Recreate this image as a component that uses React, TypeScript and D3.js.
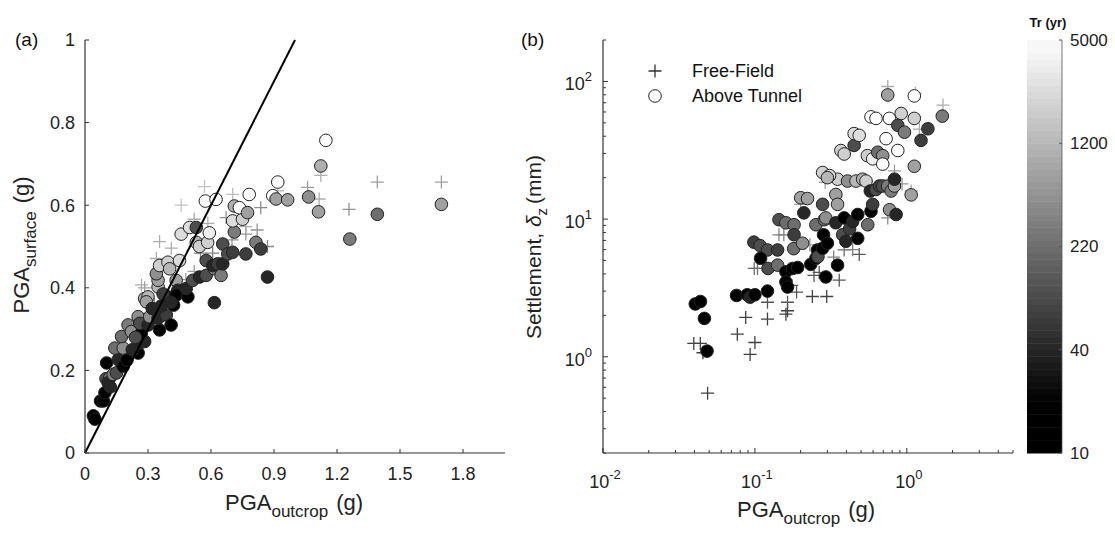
import React from "react";
import * as d3 from "d3";

// ---------------- DATA ----------------
// Panel (a): PGA_outcrop (g) vs PGA_surface (g), colour = Tr (yr)
const aCircleX = [0.040,0.047,0.074,0.087,0.095,0.103,0.100,0.118,0.110,0.134,0.150,0.158,0.182,0.142,0.182,0.174,0.205,0.221,0.253,0.261,0.284,0.268,0.253,0.261,0.300,0.308,0.355,0.348,0.387,0.410,0.422,0.363,0.284,0.300,0.292,0.348,0.348,0.340,0.355,0.395,0.403,0.434,0.395,0.442,0.434,0.490,0.482,0.450,0.513,0.545,0.577,0.577,0.616,0.616,0.608,0.632,0.648,0.656,0.656,0.680,0.703,0.711,0.703,0.750,0.711,0.735,0.766,0.774,0.782,0.814,0.837,0.869,0.458,0.498,0.530,0.530,0.545,0.584,0.592,0.573,0.624,0.120,0.200,0.225,0.240,0.320,0.372,0.410,0.894,0.918,0.910,0.965,1.065,1.112,1.123,1.147,1.261,1.392,1.697];
const aCircleY = [0.090,0.082,0.126,0.126,0.146,0.218,0.180,0.182,0.170,0.190,0.194,0.226,0.210,0.254,0.254,0.282,0.310,0.294,0.242,0.266,0.270,0.290,0.330,0.314,0.310,0.330,0.298,0.326,0.334,0.310,0.358,0.356,0.374,0.378,0.366,0.402,0.418,0.434,0.454,0.462,0.446,0.418,0.378,0.394,0.382,0.378,0.398,0.466,0.418,0.426,0.430,0.466,0.446,0.364,0.454,0.458,0.430,0.458,0.506,0.482,0.486,0.535,0.562,0.566,0.598,0.594,0.482,0.582,0.626,0.510,0.494,0.426,0.530,0.546,0.546,0.510,0.500,0.510,0.533,0.610,0.614,0.160,0.225,0.250,0.280,0.350,0.385,0.365,0.623,0.656,0.615,0.613,0.620,0.584,0.695,0.757,0.518,0.578,0.602];
const aCircleTr = [10,10,20,20,10,20,100,300,40,300,100,40,10,220,475,220,300,475,10,40,40,20,475,100,40,475,10,40,70,10,20,40,1000,1200,700,1200,700,475,2000,2000,1200,700,40,40,20,10,40,2500,100,40,100,100,300,40,40,70,300,40,100,100,70,300,2500,2000,1000,5000,70,700,5000,300,70,40,2500,2500,100,1200,2000,2000,3500,5000,5000,40,20,40,100,40,70,40,5000,5000,700,700,475,700,1000,5000,300,220,700];

const aPlusX = [0.569,0.458,0.355,0.411,0.340,0.269,0.284,0.550,0.608,0.480,0.520,0.703,0.837,0.820,0.766,0.766,0.869,0.672,0.520,0.585,0.918,1.060,1.123,1.115,1.257,1.392,1.697,0.700,0.150,0.170,0.330];
const aPlusY = [0.645,0.600,0.512,0.496,0.471,0.407,0.400,0.484,0.484,0.420,0.440,0.626,0.594,0.540,0.530,0.548,0.500,0.570,0.566,0.556,0.635,0.643,0.672,0.615,0.590,0.656,0.656,0.516,0.221,0.200,0.360];
const aPlusTr = [2500,2500,1200,1200,1200,1200,700,220,220,700,700,2000,300,475,475,1200,300,475,1200,1200,2000,700,1200,1200,475,700,700,475,100,100,300];

// Panel (b): PGA_outcrop (g) vs Settlement (mm)
const bCircleX = [0.0405,0.0438,0.0465,0.0484,0.0757,0.089,0.093,0.100,0.121,0.0985,0.108,0.121,0.141,0.109,0.122,0.141,0.144,0.160,0.181,0.181,0.180,0.206,0.200,0.222,0.210,0.160,0.177,0.191,0.160,0.164,0.233,0.252,0.258,0.260,0.279,0.283,0.300,0.293,0.350,0.252,0.286,0.279,0.293,0.341,0.350,0.341,0.387,0.378,0.397,0.420,0.440,0.350,0.407,0.463,0.512,0.539,0.475,0.475,0.581,0.553,0.596,0.575,0.627,0.660,0.694,0.749,0.788,0.829,0.829,0.770,0.850,0.550,0.596,0.643,0.694,0.694,0.730,0.581,0.627,0.768,0.918,0.872,0.965,0.872,1.12,1.12,1.068,1.24,1.376,1.712,0.749,1.12,0.450,0.450,0.486,0.368,0.387,0.279,0.310,0.300];
const bCircleY = [2.42,2.52,1.90,1.10,2.79,2.82,2.71,2.82,3.0,6.8,6.42,5.97,5.97,5.19,4.38,4.63,9.9,9.4,9.1,7.7,6.1,6.68,14.3,14.1,11.1,4.14,4.38,4.45,3.49,3.21,4.69,5.19,5.97,5.33,6.14,7.7,6.68,3.80,4.63,9.1,9.9,12.8,10.2,15.1,12.8,9.4,10.2,7.7,6.9,8.5,9.6,19.5,18.9,18.9,19.5,18.9,10.8,7.25,11.4,9.1,12.8,16.0,16.4,17.4,17.4,17.4,16.0,17.4,19.5,11.7,10.8,28.9,27.4,30.6,28.9,25.1,38.4,55.3,53.9,53.9,58.5,48.0,42.8,31.5,53.9,24.2,15.0,37.3,45.3,56.0,79.8,78.5,34.3,41.8,40.6,31.5,29.7,21.8,20.7,20.0];
const bCircleTr = [10,10,10,10,20,20,40,20,10,70,100,100,70,20,100,220,100,220,220,70,220,475,700,700,40,20,10,10,10,10,10,20,20,100,10,20,20,10,10,220,220,100,475,700,700,40,20,100,40,70,40,2000,475,1200,1000,2000,20,10,20,220,70,40,100,70,100,300,300,700,40,475,40,2000,3500,220,475,5000,5000,5000,5000,5000,2000,100,300,5000,2000,700,700,70,70,300,700,5000,100,2500,2500,2000,2000,2000,2500,1200];

const bPlusX = [0.0396,0.0437,0.0455,0.0488,0.0766,0.087,0.100,0.093,0.121,0.121,0.160,0.164,0.164,0.188,0.239,0.297,0.359,0.486,0.387,0.104,0.099,0.144,0.155,0.245,0.200,0.829,1.068,1.21,1.73,0.749,0.749,0.230,0.330,0.265,0.175,0.440,0.500,0.290,0.930,1.14];
const bPlusY = [1.25,1.25,1.07,0.544,1.46,1.93,1.27,1.04,1.88,2.49,2.04,2.16,2.49,2.95,2.74,2.74,3.6,5.54,5.97,4.38,4.38,7.69,7.69,3.9,12.8,22.4,16.0,45.0,67.4,91.9,10.2,6.5,5.3,4.1,3.3,6.0,19.0,18.5,18.0,82.0];
const bPlusTr = [20,20,20,20,20,20,20,20,20,40,20,20,40,40,20,20,40,40,100,100,100,220,220,40,700,700,700,1200,1200,1200,300,475,220,40,40,220,1200,700,475,1200];

// Axis ticks / colourbar labels
const aXTicks = [0, 0.3, 0.6, 0.9, 1.2, 1.5, 1.8];
const aYTicks = [0, 0.2, 0.4, 0.6, 0.8, 1];
const bXDecades = [-2, -1, 0];
const bYDecades = [0, 1, 2];
const trTicks = [10, 40, 220, 1200, 5000];
const identityLine = [0, 1];

// ---------------- SCALES ----------------
const ax = d3.scaleLinear().domain([0, 2]).range([85, 505]);
const ay = d3.scaleLinear().domain([0, 1]).range([453, 40]);
const bx = d3.scaleLog().domain([0.01, 5]).range([603, 1013]);
const by = d3.scaleLog().domain([0.2, 200]).range([453, 40]);
const trIndex = d3.scaleLog().domain(trTicks).range([0, 0.25, 0.5, 0.75, 1]).clamp(true);
const cbY = d3.scaleLinear().domain([0, 1]).range([453, 40]);

const grayLevel = (t: number) => (t < 0.12 ? 0 : Math.min(1, (t - 0.12) / 0.88));
const g2hex = (g: number) => { const v = Math.round(g * 255); return d3.rgb(v, v, v).formatHex(); };
const fillFor = (tr: number) => g2hex(grayLevel(trIndex(tr)));
const plusFor = (tr: number) => d3.interpolateRgb("#404040", "#d8d8d8")(grayLevel(trIndex(tr)));

const FONT = "'Liberation Sans', Arial, Helvetica, sans-serif";
const R = 6.3;
const plusPath = "M-6.5,0H6.5M0,-6.5V6.5";

function logMinor(lo: number, hi: number) {
  const out: number[] = [];
  for (let e = Math.floor(Math.log10(lo)); e <= Math.ceil(Math.log10(hi)); e++) {
    for (let m = 2; m <= 9; m++) {
      const v = m * Math.pow(10, e);
      if (v >= lo && v <= hi) out.push(v);
    }
  }
  return out;
}

export default function App() {
  const aCircles = aCircleX.map((x, i) => ({ x, y: aCircleY[i], tr: aCircleTr[i] }));
  const aPlus = aPlusX.map((x, i) => ({ x, y: aPlusY[i], tr: aPlusTr[i] }));
  const bCircles = bCircleX.map((x, i) => ({ x, y: bCircleY[i], tr: bCircleTr[i] }));
  const bPlus = bPlusX.map((x, i) => ({ x, y: bPlusY[i], tr: bPlusTr[i] }));
  const nBands = 64;
  const bands = d3.range(nBands).map((i) => i / nBands);
  const line = d3.line<number>().x((d) => ax(d)).y((d) => ay(d));

  return (
    <svg width={1115} height={533} style={{ position: "absolute", left: 0, top: 0, background: "#fff" }} fontFamily={FONT}>
      <rect width={1115} height={533} fill="#fff" />
      {/* ---------- Panel (a) ---------- */}
      <text x={15} y={46} fontSize={19} fill="#111">(a)</text>
      {aPlus.map((d, i) => (
        <path key={"ap" + i} d={plusPath} transform={`translate(${ax(d.x)},${ay(d.y)})`} stroke={plusFor(d.tr)} strokeWidth={1.3} fill="none" />
      ))}
      {aCircles.map((d, i) => (
        <circle key={"ac" + i} cx={ax(d.x)} cy={ay(d.y)} r={R} fill={fillFor(d.tr)} stroke="#222" strokeWidth={1} />
      ))}
      <path d={line(identityLine) || ""} stroke="#000" strokeWidth={2} fill="none" />
      <line x1={ax(0)} x2={ax(0)} y1={ay(1)} y2={ay(0)} stroke="#333" strokeWidth={1.2} />
      <line x1={ax(0)} x2={ax(2)} y1={ay(0)} y2={ay(0)} stroke="#333" strokeWidth={1.2} />
      {aYTicks.map((t) => (
        <g key={"ayt" + t}>
          <line x1={ax(0)} x2={ax(0) + 4} y1={ay(t)} y2={ay(t)} stroke="#333" />
          <text x={75} y={ay(t)} dy="0.35em" textAnchor="end" fontSize={18} fill="#222">{t === 0 || t === 1 ? String(t) : t.toFixed(1)}</text>
        </g>
      ))}
      {aXTicks.map((t) => (
        <g key={"axt" + t}>
          <line x1={ax(t)} x2={ax(t)} y1={ay(0)} y2={ay(0) - 4} stroke="#333" />
          <text x={ax(t)} y={480} textAnchor="middle" fontSize={18} fill="#222">{t === 0 ? "0" : t.toFixed(1)}</text>
        </g>
      ))}
      <text x={294} y={510} textAnchor="middle" fontSize={22} fill="#222">
        PGA<tspan fontSize={17} dy={7}>outcrop</tspan><tspan dy={-7} dx={8}>(g)</tspan>
      </text>
      <text transform="translate(29,245) rotate(-90)" textAnchor="middle" fontSize={22} fill="#222">
        PGA<tspan fontSize={17} dy={7}>surface</tspan><tspan dy={-7} dx={8}>(g)</tspan>
      </text>

      {/* ---------- Panel (b) ---------- */}
      <text x={521} y={46} fontSize={19} fill="#111">(b)</text>
      {bPlus.map((d, i) => (
        <path key={"bp" + i} d={plusPath} transform={`translate(${bx(d.x)},${by(d.y)})`} stroke={plusFor(d.tr)} strokeWidth={1.3} fill="none" />
      ))}
      {bCircles.map((d, i) => (
        <circle key={"bc" + i} cx={bx(d.x)} cy={by(d.y)} r={R} fill={fillFor(d.tr)} stroke="#222" strokeWidth={1} />
      ))}
      <line x1={603} x2={603} y1={40} y2={453} stroke="#333" strokeWidth={1.2} />
      <line x1={603} x2={1013} y1={453} y2={453} stroke="#333" strokeWidth={1.2} />
      {logMinor(0.01, 5).map((v) => (
        <line key={"bxm" + v} x1={bx(v)} x2={bx(v)} y1={453} y2={450} stroke="#333" />
      ))}
      {logMinor(0.2, 200).map((v) => (
        <line key={"bym" + v} x1={603} x2={606} y1={by(v)} y2={by(v)} stroke="#333" />
      ))}
      {bXDecades.map((e) => (
        <g key={"bxt" + e}>
          <line x1={bx(Math.pow(10, e))} x2={bx(Math.pow(10, e))} y1={453} y2={448} stroke="#333" />
          <text x={bx(Math.pow(10, e)) + 2} y={488} textAnchor="middle" fontSize={18} fill="#222">
            10<tspan fontSize={13} dy={-9}>{e === 0 ? "0" : "-" + Math.abs(e)}</tspan>
          </text>
        </g>
      ))}
      {bYDecades.map((e) => (
        <g key={"byt" + e}>
          <line x1={603} x2={608} y1={by(Math.pow(10, e))} y2={by(Math.pow(10, e))} stroke="#333" />
          <text x={592} y={by(Math.pow(10, e)) + 9} textAnchor="end" fontSize={18} fill="#222">
            10<tspan fontSize={13} dy={-9}>{String(e)}</tspan>
          </text>
        </g>
      ))}
      <text x={806} y={517} textAnchor="middle" fontSize={22} fill="#222">
        PGA<tspan fontSize={17} dy={7}>outcrop</tspan><tspan dy={-7} dx={8}>(g)</tspan>
      </text>
      <text transform="translate(541,247) rotate(-90)" textAnchor="middle" fontSize={21} fill="#222">
        Settlement, <tspan fontStyle="italic">δ</tspan><tspan fontSize={15} dy={6}>z</tspan><tspan dy={-6} dx={4}>(mm)</tspan>
      </text>
      {/* legend */}
      <path d={plusPath} transform="translate(655,71)" stroke="#333" strokeWidth={1.3} fill="none" />
      <circle cx={655} cy={96} r={R} fill="#fff" stroke="#222" strokeWidth={1} />
      <text x={692} y={77} fontSize={18} fill="#111">Free-Field</text>
      <text x={692} y={102} fontSize={18} fill="#111">Above Tunnel</text>

      {/* ---------- Colourbar ---------- */}
      {bands.map((t, i) => (
        <rect key={"cb" + i} x={1027} width={35} y={cbY(t + 1 / nBands)} height={cbY(t) - cbY(t + 1 / nBands) + 0.5}
          fill={g2hex(Math.min(0.97, grayLevel(t + 0.5 / nBands)))} />
      ))}
      <line x1={1062} x2={1062} y1={40} y2={453} stroke="#555" strokeWidth={0.8} />
      {trTicks.map((tr) => (
        <g key={"cbt" + tr}>
          <line x1={1059} x2={1062} y1={cbY(trIndex(tr))} y2={cbY(trIndex(tr))} stroke="#555" />
          <text x={1070} y={cbY(trIndex(tr))} dy="0.35em" fontSize={17} fill="#222">{tr}</text>
        </g>
      ))}
      <text x={1048} y={27} textAnchor="middle" fontSize={13} fontWeight="bold" fill="#111">Tr (yr)</text>
    </svg>
  );
}
